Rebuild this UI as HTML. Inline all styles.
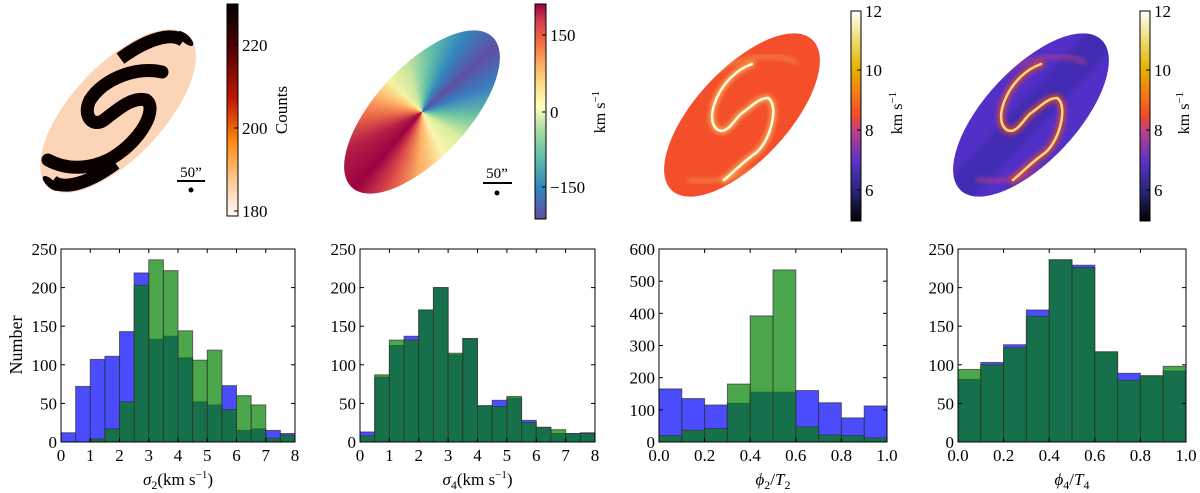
<!DOCTYPE html>
<html><head><meta charset="utf-8">
<style>
html,body{margin:0;padding:0;background:#fff;}
svg{display:block;font-family:"Liberation Serif",serif;}
</style></head>
<body>
<svg id="fig" width="1200" height="493" viewBox="0 0 1200 493" xmlns="http://www.w3.org/2000/svg">
<defs>
  <linearGradient id="cbHeat" x1="0" y1="1" x2="0" y2="0">
    <stop offset="0" stop-color="#fffaf5"/><stop offset="0.2" stop-color="#ffc080"/>
    <stop offset="0.35" stop-color="#ff8a10"/><stop offset="0.55" stop-color="#c01800"/>
    <stop offset="0.8" stop-color="#500000"/><stop offset="1" stop-color="#000"/>
  </linearGradient>
  <linearGradient id="cbSpec" x1="0" y1="1" x2="0" y2="0">
    <stop offset="0" stop-color="#5e4fa2"/><stop offset="0.15" stop-color="#3288bd"/>
    <stop offset="0.3" stop-color="#66c2a5"/><stop offset="0.42" stop-color="#abdda4"/>
    <stop offset="0.52" stop-color="#ffffbf"/><stop offset="0.62" stop-color="#fee08b"/>
    <stop offset="0.72" stop-color="#fdae61"/><stop offset="0.82" stop-color="#f46d43"/>
    <stop offset="0.92" stop-color="#d53e4f"/><stop offset="1" stop-color="#9e0142"/>
  </linearGradient>
  <linearGradient id="cbCMR" x1="0" y1="1" x2="0" y2="0">
    <stop offset="0" stop-color="#000"/><stop offset="0.14" stop-color="#262673"/>
    <stop offset="0.28" stop-color="#5a32c8"/><stop offset="0.42" stop-color="#b4418c"/>
    <stop offset="0.5" stop-color="#f04a2a"/><stop offset="0.64" stop-color="#f08a10"/>
    <stop offset="0.72" stop-color="#e6b000"/><stop offset="0.86" stop-color="#ecdc70"/>
    <stop offset="1" stop-color="#fff"/>
  </linearGradient>
  <clipPath id="c1"><ellipse cx="0" cy="0" rx="103" ry="46" transform="translate(118,111) rotate(-47)"/></clipPath>
  <clipPath id="c3"><ellipse cx="0" cy="0" rx="103" ry="46" transform="translate(742,115) rotate(-47)"/></clipPath>
  <clipPath id="c4"><ellipse cx="0" cy="0" rx="103" ry="46" transform="translate(1031,115) rotate(-47)"/></clipPath>
  <filter id="blur2"><feGaussianBlur stdDeviation="2"/></filter>
</defs>

<!-- Panel 1: counts map -->
<g>
  <g transform="translate(118,111) rotate(-47)">
    <ellipse cx="0" cy="0" rx="103" ry="46" fill="#fcd4b8"/>
    <g fill="none" stroke="#0a0000" stroke-width="13">
      <path d="M 40,-34 A 96,39 0 0 1 96,0"/>
      <path d="M -40,34 A 96,39 0 0 1 -96,0"/>
    </g>
    <ellipse cx="99" cy="0" rx="4" ry="10" fill="#0a0000"/>
    <ellipse cx="-99" cy="0" rx="4" ry="10" fill="#0a0000"/>
  </g>
  <g clip-path="url(#c1)" fill="none" stroke="#0a0000" stroke-width="13" stroke-linecap="round">
    <path d="M 162,72 C 138,66 104,78 90,100 C 82,116 93,128 104,120 C 116,111 132,96 146,100 C 158,108 142,140 112,158 C 90,170 66,170 48,160"/>
  </g>
</g>
<g>
  <text x="191" y="177" font-size="15" text-anchor="middle">50”</text>
  <line x1="177" y1="181" x2="205" y2="181" stroke="#000" stroke-width="2"/>
  <circle cx="191" cy="190" r="2.5" fill="#000"/>
</g>
<g>
  <rect x="227" y="4" width="11" height="212" fill="url(#cbHeat)" stroke="#000" stroke-width="1"/>
  <g font-size="17">
    <line x1="234" y1="45" x2="238" y2="45" stroke="#000"/><text x="242" y="51">220</text>
    <line x1="234" y1="128" x2="238" y2="128" stroke="#000"/><text x="242" y="134">200</text>
    <line x1="234" y1="211" x2="238" y2="211" stroke="#000"/><text x="242" y="217">180</text>
  </g>
  <text transform="translate(287,110) rotate(-90)" font-size="17" text-anchor="middle">Counts</text>
</g>

<!-- Panel 2: velocity map -->
<g transform="translate(422,112) rotate(-47)">
  <foreignObject x="-103" y="-46" width="206" height="92">
    <div xmlns="http://www.w3.org/1999/xhtml" style="width:206px;height:92px;border-radius:50%;background:conic-gradient(from 0deg at 50% 50%, #f6f2a2 0deg, #c8e6a0 30deg, #66c2a5 55deg, #3288bd 75deg, #5e4fa2 95deg, #3a7cc0 115deg, #66c2a5 140deg, #d6ee9c 170deg, #fbf5b0 200deg, #fdae61 230deg, #e0504a 250deg, #9e0142 268deg, #b41e48 290deg, #f07048 315deg, #fdc070 340deg, #f6f2a2 360deg);"></div>
  </foreignObject>
</g>
<g>
  <text x="497" y="178" font-size="15" text-anchor="middle">50”</text>
  <line x1="483" y1="183" x2="512" y2="183" stroke="#000" stroke-width="2"/>
  <circle cx="497" cy="193" r="2.5" fill="#000"/>
</g>
<g>
  <rect x="535" y="4" width="11" height="215" fill="url(#cbSpec)" stroke="#000" stroke-width="1"/>
  <g font-size="17">
    <line x1="542" y1="35" x2="546" y2="35" stroke="#000"/><text x="550" y="41">150</text>
    <line x1="542" y1="112" x2="546" y2="112" stroke="#000"/><text x="550" y="118">0</text>
    <line x1="542" y1="187" x2="546" y2="187" stroke="#000"/><text x="550" y="193">−150</text>
  </g>
  <text transform="translate(605,112) rotate(-90)" font-size="16" text-anchor="middle">km s<tspan dy="-6" font-size="11">−1</tspan></text>
</g>

<!-- Panel 3: sigma2 map -->
<g>
  <ellipse cx="0" cy="0" rx="103" ry="46" transform="translate(742,115) rotate(-47)" fill="#f44e2b"/>
  <g clip-path="url(#c3)" fill="none" stroke-linecap="round">
    <path d="M 705,80 C 740,50 785,55 795,62" stroke="#f4a050" stroke-width="5" opacity="0.5" filter="url(#blur2)"/>
    <path d="M 690,180 C 720,185 765,170 785,150" stroke="#f4a050" stroke-width="5" opacity="0.5" filter="url(#blur2)"/>
    <path d="M 752,64 C 720,75 702,120 718,130 C 728,135 735,118 742,113 C 750,108 758,98 768,98 C 780,105 770,145 753,155 C 740,165 730,175 724,180" stroke="#f8d060" stroke-width="7" opacity="0.6" filter="url(#blur2)"/>
    <path d="M 752,64 C 720,75 702,120 718,130 C 728,135 735,118 742,113 C 750,108 758,98 768,98 C 780,105 770,145 753,155 C 740,165 730,175 724,180" stroke="#fffbe0" stroke-width="2.5"/>
  </g>
</g>
<g>
  <rect x="851" y="11" width="10" height="210" fill="url(#cbCMR)" stroke="#000" stroke-width="1"/>
  <g font-size="17">
    <line x1="857" y1="11" x2="861" y2="11" stroke="#000"/><text x="865" y="17">12</text>
    <line x1="857" y1="70" x2="861" y2="70" stroke="#000"/><text x="865" y="76">10</text>
    <line x1="857" y1="130" x2="861" y2="130" stroke="#000"/><text x="865" y="136">8</text>
    <line x1="857" y1="190" x2="861" y2="190" stroke="#000"/><text x="865" y="196">6</text>
  </g>
  <text transform="translate(902,113) rotate(-90)" font-size="16" text-anchor="middle">km s<tspan dy="-6" font-size="11">−1</tspan></text>
</g>

<!-- Panel 4: sigma4 map -->
<g>
  <ellipse cx="0" cy="0" rx="103" ry="46" transform="translate(1031,115) rotate(-47)" fill="#5230c8"/>
  <g clip-path="url(#c4)" fill="none" stroke-linecap="round">
    <path d="M 960,190 L 1100,40" stroke="#2a2890" stroke-width="30" opacity="0.35" filter="url(#blur2)"/>
    <path d="M 994,80 C 1029,50 1074,55 1084,62" stroke="#c04080" stroke-width="6" opacity="0.5" filter="url(#blur2)"/>
    <path d="M 979,180 C 1009,185 1054,170 1074,150" stroke="#c04080" stroke-width="6" opacity="0.5" filter="url(#blur2)"/>
    <path d="M 1041,64 C 1009,75 991,120 1007,130 C 1017,135 1024,118 1031,113 C 1039,108 1047,98 1057,98 C 1069,105 1059,145 1042,155 C 1029,165 1019,175 1013,180" stroke="#e85020" stroke-width="8" opacity="0.7" filter="url(#blur2)"/>
    <path d="M 1041,64 C 1009,75 991,120 1007,130 C 1017,135 1024,118 1031,113 C 1039,108 1047,98 1057,98 C 1069,105 1059,145 1042,155 C 1029,165 1019,175 1013,180" stroke="#ffd870" stroke-width="2.5"/>
  </g>
</g>
<g>
  <rect x="1140" y="11" width="10" height="210" fill="url(#cbCMR)" stroke="#000" stroke-width="1"/>
  <g font-size="17">
    <line x1="1146" y1="11" x2="1150" y2="11" stroke="#000"/><text x="1154" y="17">12</text>
    <line x1="1146" y1="70" x2="1150" y2="70" stroke="#000"/><text x="1154" y="76">10</text>
    <line x1="1146" y1="130" x2="1150" y2="130" stroke="#000"/><text x="1154" y="136">8</text>
    <line x1="1146" y1="190" x2="1150" y2="190" stroke="#000"/><text x="1154" y="196">6</text>
  </g>
  <text transform="translate(1189,113) rotate(-90)" font-size="16" text-anchor="middle">km s<tspan dy="-6" font-size="11">−1</tspan></text>
</g>

<text transform="translate(22,345) rotate(-90)" font-size="18" text-anchor="middle">Number</text>
<g id="hists"></g>
</svg>

<script>
// Histogram data
const sig2Blue  = [12,72,107,111,143,219,133,137,109,52,48,73,15,17,15,11];
const sig2Green = [0,0,4,17,52,203,236,222,144,106,119,42,60,48,5,9];
const sig4Blue  = [13,84,125,137,171,200,113,134,47,54,57,28,19,11,11,12];
const sig4Green = [8,87,132,132,171,200,115,134,47,46,59,25,19,16,11,11];
const phi2Blue  = [165,135,115,120,155,155,160,122,75,112];
const phi2Green = [20,37,42,180,392,535,47,22,20,13];
const phi4Blue  = [81,103,126,171,236,229,116,89,85,92];
const phi4Green = [94,100,122,163,236,226,117,80,86,98];
const sigXTicks = ["0","1","2","3","4","5","6","7","8"];
const phiXTicks = ["0.0","0.2","0.4","0.6","0.8","1.0"];
const yTicks250 = ["0","50","100","150","200","250"];
const yTicks600 = ["0","100","200","300","400","500","600"];

const NS = "http://www.w3.org/2000/svg";
const root = document.getElementById('hists');
function mk(tag, attrs, parent){const e=document.createElementNS(NS,tag);for(const k in attrs)e.setAttribute(k,attrs[k]);parent.appendChild(e);return e;}

function hist(name, x0, x1, blue, green, xmax, ymax, xt, yt, labelHTML){
  const y0=442, yTop=249;
  const g=mk('g',{},root);
  
  
  const xs=v=>x0+(v/xmax)*(x1-x0);
  const ys=v=>y0-(v/ymax)*(y0-yTop);
  const n=blue.length, w=xmax/n;
  [[blue,'#0000ff'],[green,'#008000']].forEach(([arr,col],si)=>{
    arr.forEach((v,i)=>{
      const r=mk('rect',{x:xs(i*w),y:ys(v),width:xs((i+1)*w)-xs(i*w),height:y0-ys(v),fill:col,'fill-opacity':0.7,stroke:'#333','stroke-opacity':0.7,'stroke-width':1},g);
      
      
    });
  });
  mk('rect',{x:x0,y:yTop,width:x1-x0,height:y0-yTop,fill:'none',stroke:'#000','stroke-width':1},g);
  xt.forEach((t,i)=>{
    const v=i*xmax/(xt.length-1), X=xs(v);
    mk('line',{x1:X,y1:y0,x2:X,y2:y0-4,stroke:'#000'},g);
    mk('line',{x1:X,y1:yTop,x2:X,y2:yTop+4,stroke:'#000'},g);
    const tx=mk('text',{x:X,y:y0+19,'font-size':17,'text-anchor':'middle'},g);tx.textContent=t;
  });
  yt.forEach((t,i)=>{
    const v=i*ymax/(yt.length-1), Y=ys(v);
    mk('line',{x1:x0,y1:Y,x2:x0+4,y2:Y,stroke:'#000'},g);
    mk('line',{x1:x1,y1:Y,x2:x1-4,y2:Y,stroke:'#000'},g);
    const tx=mk('text',{x:x0-4,y:Y+6,'font-size':17,'text-anchor':'end'},g);tx.textContent=t;
  });
  const lab=mk('text',{x:(x0+x1)/2,y:485,'font-size':17,'text-anchor':'middle'},g);
  lab.innerHTML=labelHTML;
  
  
}
hist('hist-sigma2',61,295,sig2Blue,sig2Green,8,250,sigXTicks,yTicks250,'<tspan font-style="italic">σ</tspan><tspan font-size="12" dy="4">2</tspan><tspan dy="-4">(km s</tspan><tspan font-size="11" dy="-7">−1</tspan><tspan dy="7">)</tspan>');
hist('hist-sigma4',360,595,sig4Blue,sig4Green,8,250,sigXTicks,yTicks250,'<tspan font-style="italic">σ</tspan><tspan font-size="12" dy="4">4</tspan><tspan dy="-4">(km s</tspan><tspan font-size="11" dy="-7">−1</tspan><tspan dy="7">)</tspan>');
hist('hist-phi2',659,887,phi2Blue,phi2Green,1,600,phiXTicks,yTicks600,'<tspan font-style="italic">ϕ</tspan><tspan font-size="12" dy="4">2</tspan><tspan dy="-4">/</tspan><tspan font-style="italic">T</tspan><tspan font-size="12" dy="4">2</tspan>');
hist('hist-phi4',958,1186,phi4Blue,phi4Green,1,250,phiXTicks,yTicks250,'<tspan font-style="italic">ϕ</tspan><tspan font-size="12" dy="4">4</tspan><tspan dy="-4">/</tspan><tspan font-style="italic">T</tspan><tspan font-size="12" dy="4">4</tspan>');
</script>
</body></html>
